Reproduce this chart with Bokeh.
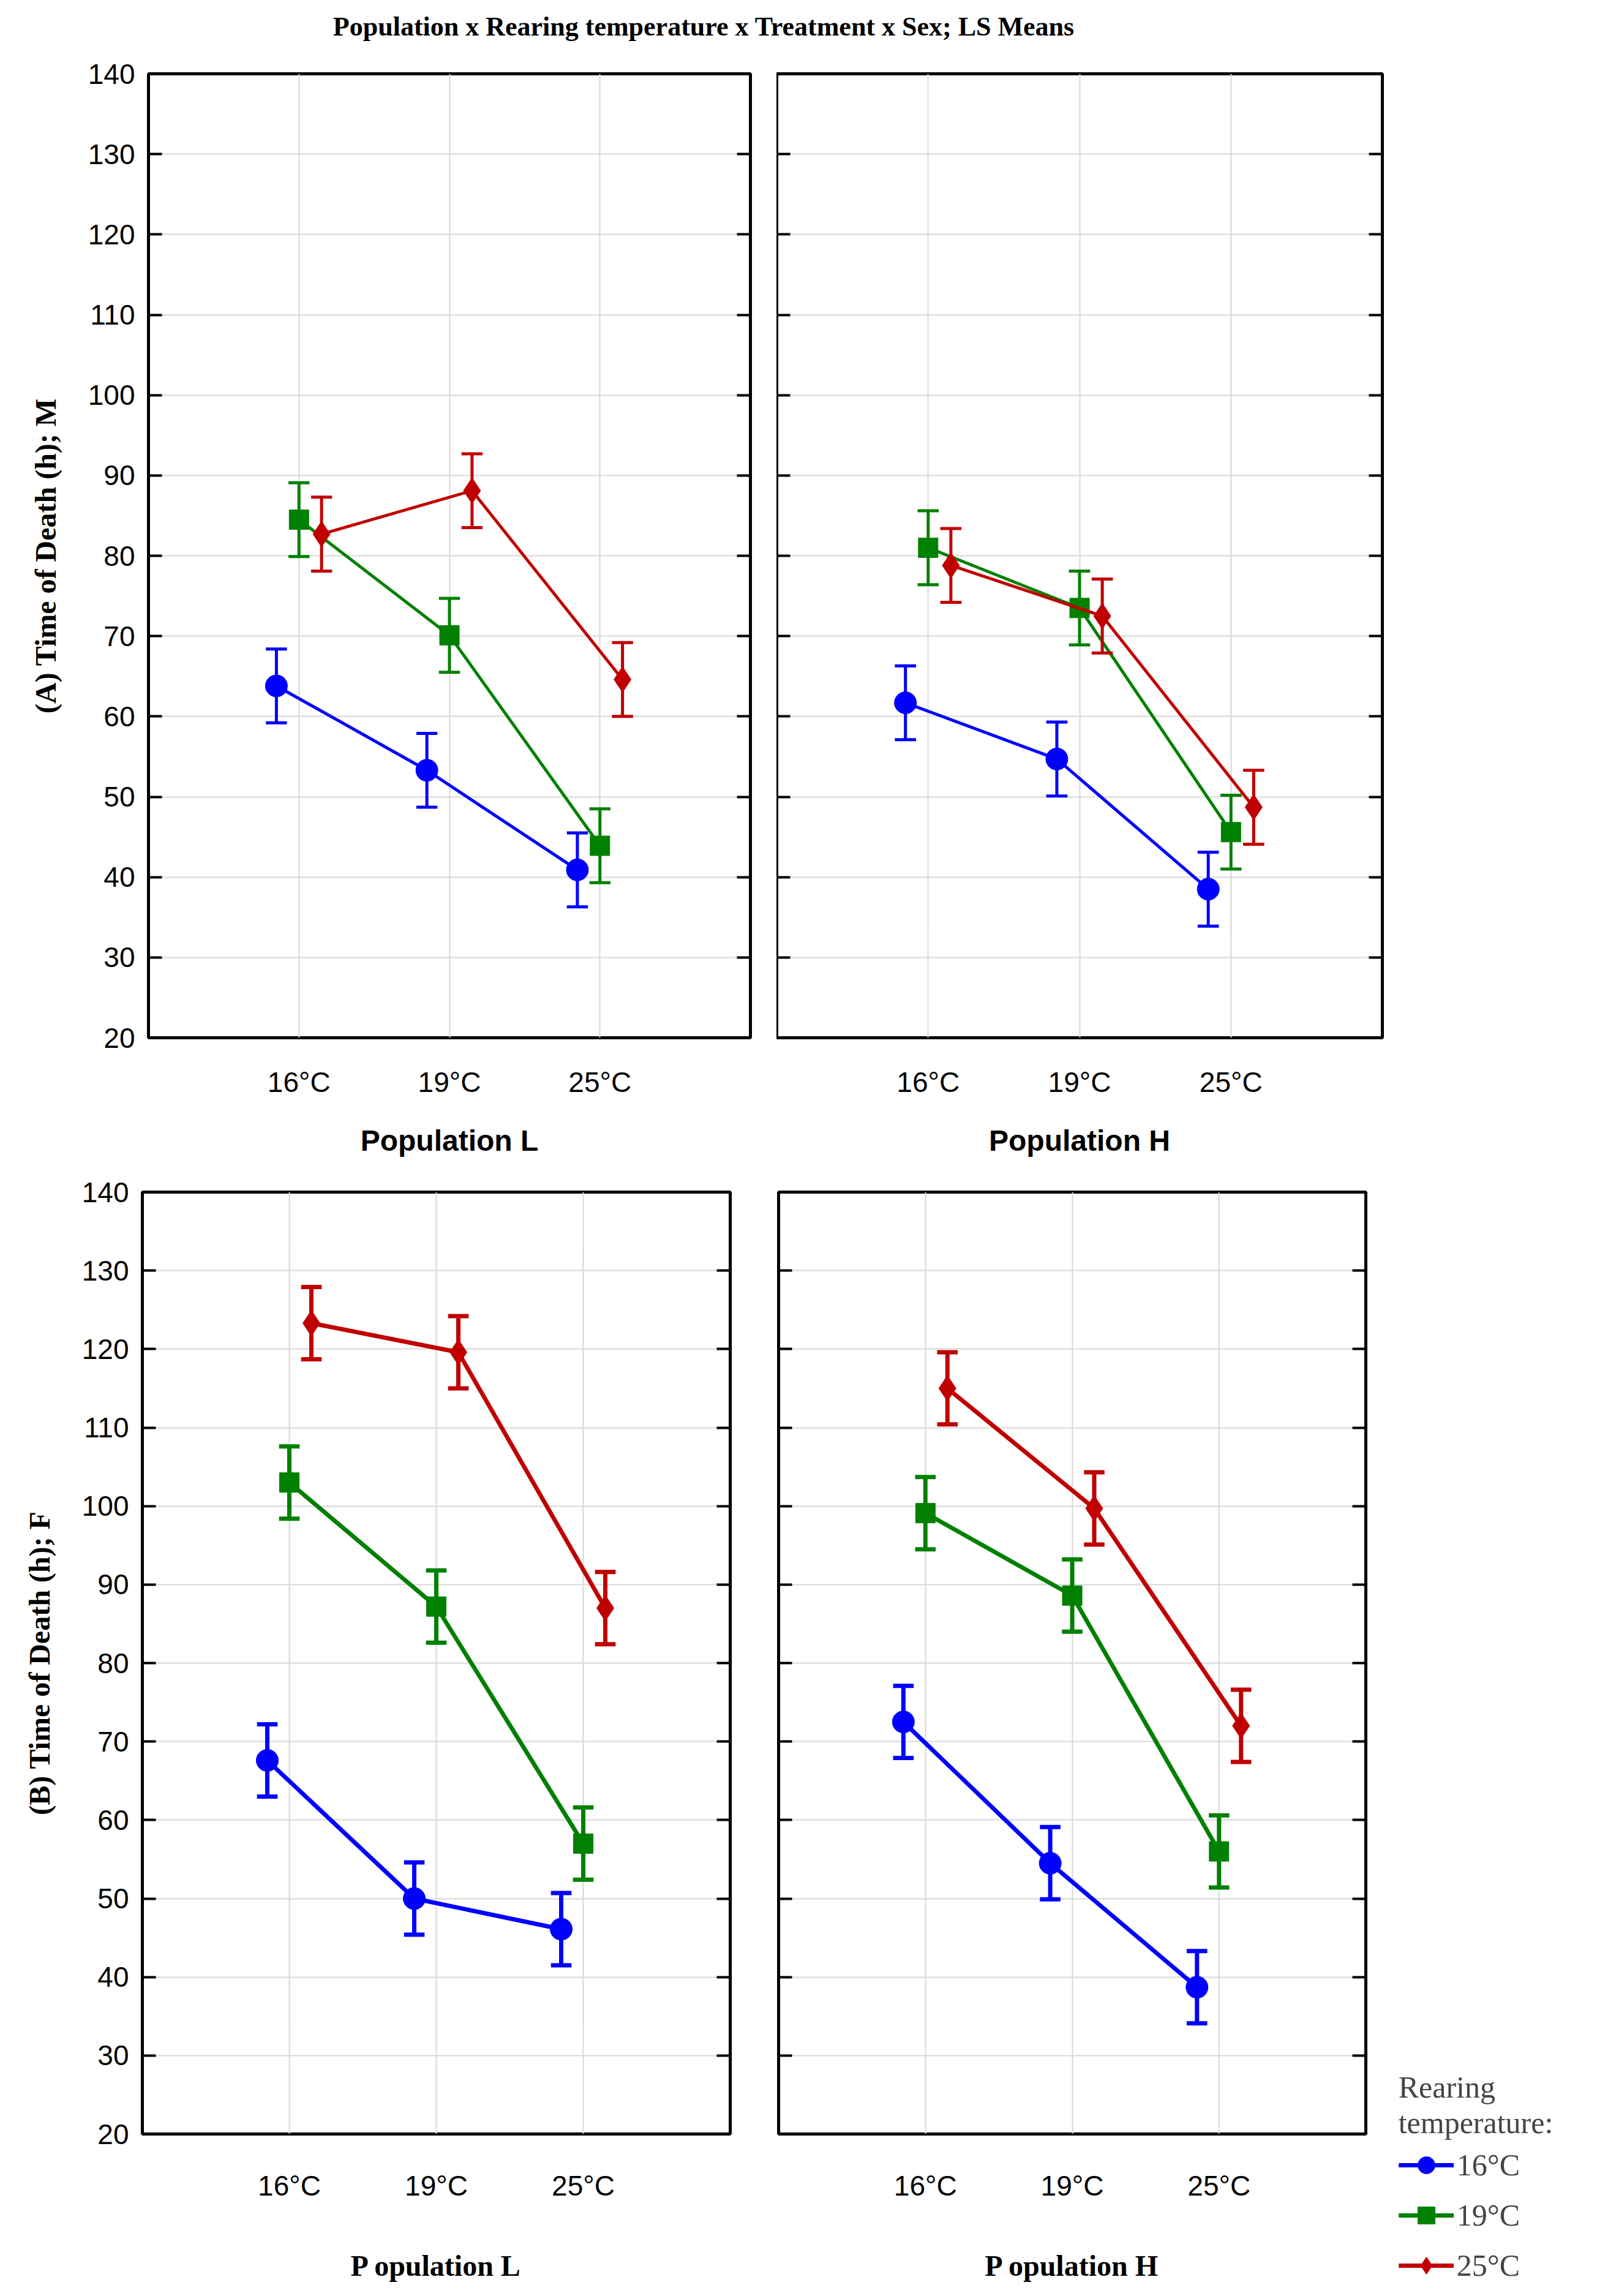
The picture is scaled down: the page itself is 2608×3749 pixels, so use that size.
from bokeh.plotting import figure
from bokeh.models import (FixedTicker, LinearAxis, Legend, LegendItem, Div, ColumnDataSource)
from bokeh.layouts import column, row
from bokeh.embed import file_html
from bokeh.resources import INLINE

categories = ["16°C", "19°C", "25°C"]
series_names = ["16°C", "19°C", "25°C"]
colors = ["#0000ff", "#008000", "#c00000"]
markers = ["circle", "square", "diamond"]
offsets = [-0.15, 0.0, 0.15]
err = 4.6

A_L = [[63.8, 53.3, 40.9], [84.5, 70.1, 43.9], [82.7, 88.1, 64.6]]
A_H = [[61.7, 54.7, 38.5], [81.0, 73.5, 45.6], [78.8, 72.5, 48.7]]
B_L = [[67.6, 50.0, 46.1], [103.0, 87.2, 57.0], [123.3, 119.6, 87.0]]
B_H = [[72.5, 54.5, 38.7], [99.1, 88.6, 56.0], [115.0, 99.7, 72.0]]

SANS = "Liberation Sans"
SERIF = "Liberation Serif"
YT = list(range(20, 141, 10))


def panel(data, fw, fh, left, right, top, bottom, ylabel, xlabel, show_ylab, lw, xfont, tick_std, lab_std):
    p = figure(x_range=(0, 4), y_range=(20, 140), frame_width=fw, frame_height=fh,
               min_border_left=left, min_border_right=right, min_border_top=top,
               min_border_bottom=bottom, output_backend="svg", toolbar_location=None)
    p.outline_line_color = "black"
    p.outline_line_width = 5
    renderers = []
    for i in range(3):
        xs = [k + 1 + offsets[i] for k in range(3)]
        ys = data[i]
        src = ColumnDataSource(dict(x=xs, y=ys, lo=[v - err for v in ys], hi=[v + err for v in ys],
                                    l=[x - 0.07 for x in xs], r=[x + 0.07 for x in xs]))
        ln = p.line("x", "y", source=src, color=colors[i], line_width=lw)
        sg = p.segment("x", "lo", "x", "hi", source=src, color=colors[i], line_width=lw)
        p.segment("l", "lo", "r", "lo", source=src, color=colors[i], line_width=lw)
        p.segment("l", "hi", "r", "hi", source=src, color=colors[i], line_width=lw)
        sz = {"circle": 36, "square": 32, "diamond": 42}[markers[i]]
        mk = p.scatter("x", "y", source=src, marker=markers[i], size=sz, color=colors[i])
        renderers.append([ln, sg, mk])
    p.xgrid.ticker = FixedTicker(ticks=[1, 2, 3])
    p.ygrid.ticker = FixedTicker(ticks=YT)
    p.xgrid.grid_line_color = "#d8d8d8"
    p.ygrid.grid_line_color = "#d8d8d8"
    p.xgrid.grid_line_width = 2
    p.ygrid.grid_line_width = 2

    xa = p.xaxis[0]
    xa.ticker = FixedTicker(ticks=[1, 2, 3])
    xa.major_label_overrides = {1: categories[0], 2: categories[1], 3: categories[2]}
    xa.major_tick_line_color = None
    xa.minor_tick_line_color = None
    xa.axis_line_color = None
    xa.major_label_text_font = SANS
    xa.major_label_text_font_size = "46px"
    xa.major_label_text_color = "black"
    xa.major_label_standoff = tick_std
    xa.axis_label = xlabel
    xa.axis_label_text_font = xfont
    xa.axis_label_text_font_style = "bold"
    xa.axis_label_text_font_size = "48px"
    xa.axis_label_text_color = "black"
    xa.axis_label_standoff = lab_std

    ya = p.yaxis[0]
    ya.ticker = FixedTicker(ticks=YT)
    ya.axis_line_color = None
    ya.minor_tick_line_color = None
    ya.major_tick_in = 22
    ya.major_tick_out = 0
    ya.major_tick_line_width = 4
    ya.major_label_text_font = SANS
    ya.major_label_text_font_size = "46px"
    ya.major_label_text_color = "black"
    ya.major_label_standoff = 22
    if show_ylab:
        ya.axis_label = ylabel
        ya.axis_label_text_font = SERIF
        ya.axis_label_text_font_style = "bold"
        ya.axis_label_text_font_size = "48px"
        ya.axis_label_text_color = "black"
        ya.axis_label_standoff = 40
    else:
        ya.major_label_overrides = {t: "" for t in YT}
        ya.major_label_standoff = 0
    ra = LinearAxis(ticker=FixedTicker(ticks=YT))
    ra.axis_line_color = None
    ra.minor_tick_line_color = None
    ra.major_tick_in = 22
    ra.major_tick_out = 0
    ra.major_tick_line_width = 4
    ra.major_label_overrides = {t: "" for t in YT}
    ra.major_label_standoff = 0
    p.add_layout(ra, "right")
    return p, renderers


title = Div(text="Population x Rearing temperature x Treatment x Sex; LS Means", width=2288, height=80,
            styles={"font-family": SERIF, "font-size": "44px", "font-weight": "bold",
                    "text-align": "center", "width": "2288px", "padding-top": "8px"})

tl, _ = panel(A_L, 983, 1574, 242, 43, 30, 206, "(A) Time of Death (h); M", "Population L", True, 5, SANS, 40, 40)
tr, _ = panel(A_H, 989, 1574, 0, 335, 30, 206, "", "Population H", False, 5, SANS, 40, 40)
bl, _ = panel(B_L, 960, 1538, 232, 40, 46, 245, "(B) Time of Death (h); F", "P opulation L", True, 7, SERIF, 52, 75)
br, rs = panel(B_H, 959, 1538, 39, 362, 46, 245, "", "P opulation H", False, 7, SERIF, 52, 75)

items = [LegendItem(label=series_names[i], renderers=rs[i]) for i in range(3)]
leg = Legend(items=items, title="Rearing\ntemperature:", location=(-134, -250),
             label_text_font=SERIF, label_text_font_size="50px",
             title_text_font=SERIF, title_text_font_size="50px", title_text_font_style="normal",
             glyph_width=90, glyph_height=70, label_height=70, spacing=12,
             border_line_color=None, background_fill_alpha=0, padding=0)
br.add_layout(leg, "right")

layout = column(title, row(tl, tr, spacing=0), row(bl, br, spacing=0), spacing=0)
open("out.html", "w").write(file_html(layout, INLINE))
